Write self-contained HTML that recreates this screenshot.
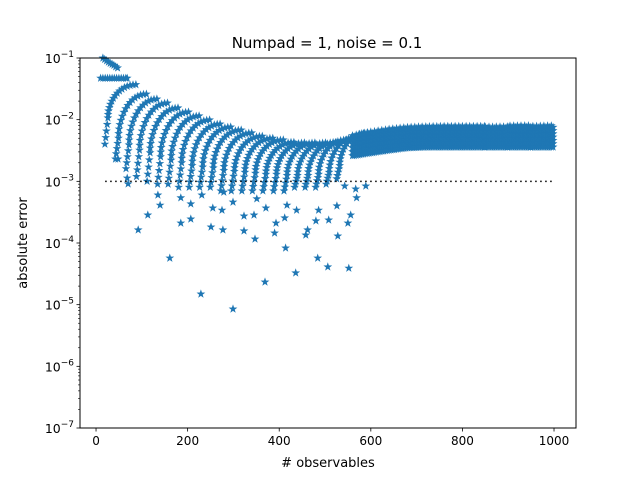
<!DOCTYPE html>
<html><head><meta charset="utf-8"><style>
html,body{margin:0;padding:0;background:#fff}
svg{display:block;font-family:"DejaVu Sans","Liberation Sans",sans-serif}
</style></head><body>
<svg id="chart" width="640" height="480" viewBox="0 0 640 480" xmlns="http://www.w3.org/2000/svg">
<defs><path id="star" d="M0,-4.6 L1.08,-1.49 L4.37,-1.42 L1.75,0.57 L2.7,3.72 L0,1.84 L-2.7,3.72 L-1.75,0.57 L-4.37,-1.42 L-1.08,-1.49 Z" fill="#1f77b4"/></defs>
<rect x="0" y="0" width="640" height="480" fill="#fff"/>
<text x="327" y="48" font-size="15" text-anchor="middle">Numpad = 1, noise = 0.1</text>
<g id="marks"></g>
<line id="thresh" stroke="#000" stroke-width="1.5" stroke-dasharray="1.5,3.5"/>
<g id="axes"></g>
<rect x="80" y="58" width="496" height="370" fill="none" stroke="#000" stroke-width="1"/>
<text x="328" y="467" font-size="13" text-anchor="middle"># observables</text>
<text x="27" y="243" font-size="13" text-anchor="middle" transform="rotate(-90 27 243)">absolute error</text>
</svg>
<script>
const xTicks = [0,200,400,600,800,1000];
const yTickExps = [-1,-2,-3,-4,-5,-6,-7];
const threshold = [0.001];
const thresholdRange = [20,1000];
const topX = [15,19,23,27,31,35,39,43,47];
const topY = [0.1,0.095,0.09,0.086,0.082,0.079,0.076,0.072,0.069];
const rowX = [10,15,20,25,30,35,40,45,50,55,60,65,68];
const rowY = [0.047,0.047,0.047,0.047,0.047,0.047,0.047,0.047,0.047,0.047,0.047,0.047,0.047];
const arcX0 = [26,49,72,95,118,141,164,187,210,233,256,279,302,325,348,371,394,417,440,463,486,509,532];
const arcTop = [0.037,0.026,0.0216,0.0186,0.0155,0.0133,0.0115,0.0099,0.0085,0.0076,0.0068,0.0061,0.0054,0.0050,0.0047,0.0043,0.0042,0.0042,0.0042,0.0043,0.0047,0.0052,0.0061];
const arcBottom = [0.0107,0.005,0.0039,0.0032,0.0029,0.0025,0.0022,0.0020,0.0018,0.0017,0.00165,0.0015,0.00145,0.0014,0.00135,0.0013,0.0013,0.00125,0.00125,0.00125,0.0013,0.0014,0.0018];
const arcTail = [0.004,0.0023,0.0016,0.0012,0.001,0.0009,0.0009,0.0008,0.0008,0.0008,0.0008,0.0007,0.0007,0.0007,0.0007,0.0007,0.0007,0.0007,0.0008,0.0008,0.0008,0.0009,0.0011];
const bandX = [560,600,640,680,720,760,800,850,900,950,1000];
const bandTop = [0.0055,0.0063,0.0070,0.0075,0.0077,0.0078,0.0078,0.0078,0.0079,0.008,0.0082];
const bandBot = [0.0026,0.0029,0.0032,0.0035,0.0036,0.0036,0.0036,0.0036,0.0036,0.0036,0.0036];
const outX = [48,68,70,92,113,135,140,161,185,185,207,207,231,229,251,255,275,277,279,299,299,323,323,345,347,351,369,371,390,393,412,414,417,436,438,458,462,480,484,486,506,508,528,550,552,556,569,526,543,567,589];
const outY = [0.0023,0.00113,0.00091,1.63e-4,2.85e-4,6.0e-4,4.1e-4,5.7e-5,2.1e-4,5.4e-4,2.45e-4,4.3e-4,6.0e-4,1.49e-5,1.82e-4,3.7e-4,3.4e-4,1.63e-4,6.7e-4,4.6e-4,8.5e-6,1.57e-4,2.74e-4,2.85e-4,1.16e-4,5.2e-4,2.33e-5,3.7e-4,1.45e-4,2.1e-4,2.55e-4,8.3e-5,4.1e-4,3.27e-5,3.4e-4,1.35e-4,1.63e-4,2.28e-4,5.7e-5,3.4e-4,4.1e-5,2.36e-4,1.3e-4,2.1e-4,3.9e-5,2.85e-4,5.4e-4,4.0e-4,8.4e-4,7.5e-4,8.4e-4];

const NS='http://www.w3.org/2000/svg';
const XMIN=-35, XMAX=1048, PL=80, PR=576, PT=58, PB=428;
function X(v){return PL+(v-XMIN)*(PR-PL)/(XMAX-XMIN);}
function Y(v){return PT+(-1-Math.log10(v))*(PB-PT)/6;}
const marks=document.getElementById('marks');
function star(px,py){
  const u=document.createElementNS(NS,'use');
  u.setAttribute('href','#star');
  u.setAttribute('x',px.toFixed(1));u.setAttribute('y',py.toFixed(1));
  
  
  marks.appendChild(u);
}
topX.forEach((x,i)=>star(X(x),Y(topY[i])));
rowX.forEach((x,i)=>star(X(x),Y(rowY[i])));
const ARCW=61, N=16, NT=4;
arcX0.forEach((x0,i)=>{
  const xl=X(x0), xr=X(x0+ARCW), yb=Y(arcBottom[i]), yt=Y(arcTop[i]);
  for(let k=0;k<N;k++){
    const th=k/(N-1)*Math.PI/2;
    star(xr-(xr-xl)*Math.cos(th), yb-(yb-yt)*Math.sin(th));
  }
  const ytl=Y(arcTail[i]);
  for(let k=1;k<=NT;k++){
    star(xl-(k/NT)*3, yb+(ytl-yb)*k/NT);
  }
});
for(let s=0;s<bandX.length-1;s++){
  const last=(s===bandX.length-2);
  for(let x=bandX[s];x<bandX[s+1]||(last&&x<=bandX[s+1]);x+=4){
    const f=(x-bandX[s])/(bandX[s+1]-bandX[s]);
    const yt=Y(bandTop[s])*(1-f)+Y(bandTop[s+1])*f;
    const yb=Y(bandBot[s])*(1-f)+Y(bandBot[s+1])*f;
    const n=Math.max(2,Math.round((yb-yt)/4));
    const off=((x/4)%2)*1.5;
    for(let j=0;j<=n;j++) star(X(x),yt+off+(yb-yt-off)*j/n);
  }
}
outX.forEach((x,i)=>star(X(x),Y(outY[i])));

const th=document.getElementById('thresh');
th.setAttribute('x1',X(thresholdRange[0]));th.setAttribute('x2',X(thresholdRange[1]));
th.setAttribute('y1',Y(threshold[0]));th.setAttribute('y2',Y(threshold[0]));

const axes=document.getElementById('axes');
function el(tag,attrs,text){const e=document.createElementNS(NS,tag);for(const k in attrs)e.setAttribute(k,attrs[k]);if(text!==undefined)e.textContent=text;axes.appendChild(e);return e;}
xTicks.forEach(t=>{
  const x=X(t);
  const l=el('line',{x1:x,x2:x,y1:PB,y2:PB+3.5,stroke:'#000','stroke-width':0.8});
  
  
  const tx=el('text',{x:x,y:PB+17,'font-size':12,'text-anchor':'middle'},String(t));
  
  
});
yTickExps.forEach(e=>{
  const y=Y(Math.pow(10,e));
  const l=el('line',{x1:PL-3.5,x2:PL,y1:y,y2:y,stroke:'#000','stroke-width':0.8});
  
  
  const tx=el('text',{x:PL-6,y:y+5,'font-size':12.5,'text-anchor':'end'});
  
  
  const b=document.createElementNS(NS,'tspan');b.textContent='10';tx.appendChild(b);
  const sp=document.createElementNS(NS,'tspan');sp.setAttribute('dy','-6');sp.setAttribute('font-size','9');sp.textContent='\u2212'+(-e);tx.appendChild(sp);
  if(e>-7){for(let m=2;m<=9;m++){
    const ym=Y(m*Math.pow(10,e-1));
    const ml=el('line',{x1:PL-2,x2:PL,y1:ym,y2:ym,stroke:'#000','stroke-width':0.6});
    
    
  }}
});
</script>
</body></html>
